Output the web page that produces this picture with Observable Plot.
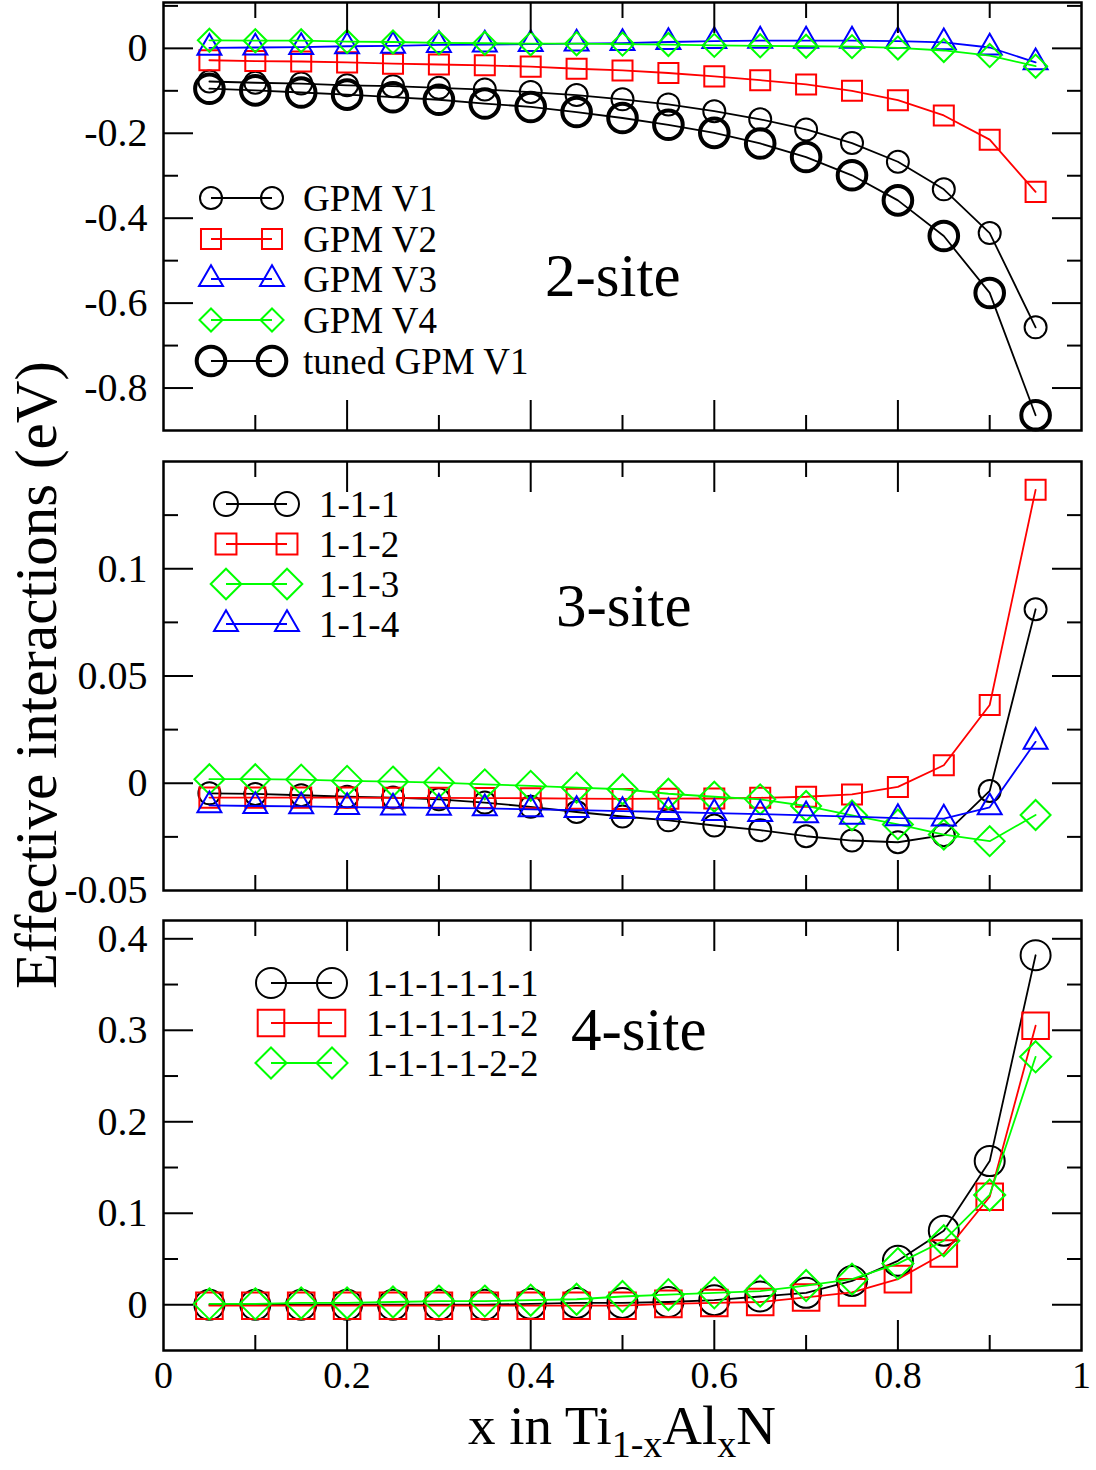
<!DOCTYPE html>
<html><head><meta charset="utf-8">
<script src="https://cdn.jsdelivr.net/npm/d3@7"></script>
<script src="https://cdn.jsdelivr.net/npm/@observablehq/plot@0.6"></script>
<style>
body{margin:0;background:#fff;}
#chart{position:relative;width:1096px;height:1470px;font-family:"Liberation Serif","Times New Roman",serif;}
#chart svg{position:absolute;left:0;}
</style></head><body><div id="chart"></div>
<script>
// ---- data ----
const xs = [0.05,0.10,0.15,0.20,0.25,0.30,0.35,0.40,0.45,0.50,0.55,0.60,0.65,0.70,0.75,0.80,0.85,0.90,0.95];

// 2-site
const gpmV1 = [-0.078,-0.081,-0.083,-0.087,-0.089,-0.093,-0.097,-0.103,-0.110,-0.120,-0.132,-0.148,-0.167,-0.191,-0.223,-0.267,-0.332,-0.435,-0.657];
const gpmV2 = [-0.028,-0.030,-0.031,-0.033,-0.036,-0.038,-0.040,-0.043,-0.048,-0.052,-0.058,-0.066,-0.075,-0.085,-0.100,-0.122,-0.158,-0.215,-0.338];
const gpmV3 = [0.001,0.002,0.003,0.005,0.006,0.008,0.009,0.010,0.011,0.0125,0.015,0.017,0.018,0.018,0.018,0.017,0.014,0.002,-0.033];
const gpmV4 = [0.019,0.018,0.018,0.016,0.015,0.013,0.012,0.011,0.011,0.010,0.009,0.007,0.006,0.005,0.004,0.001,-0.005,-0.017,-0.042];
const tunedV1 = [-0.095,-0.099,-0.104,-0.109,-0.115,-0.121,-0.130,-0.138,-0.150,-0.164,-0.180,-0.199,-0.224,-0.256,-0.299,-0.358,-0.442,-0.576,-0.864];

// 3-site
const t111 = [-0.0047,-0.0050,-0.0056,-0.0063,-0.0067,-0.0075,-0.0090,-0.0110,-0.0134,-0.0155,-0.0173,-0.0197,-0.0219,-0.0247,-0.0267,-0.0275,-0.0242,-0.0036,0.0811];
const t112 = [-0.0067,-0.0067,-0.0067,-0.0067,-0.0068,-0.0068,-0.0069,-0.0070,-0.0072,-0.0073,-0.0072,-0.0071,-0.0068,-0.0063,-0.0052,-0.0017,0.0084,0.0365,0.1368];
const t113 = [0.0019,0.0019,0.0017,0.0011,0.0008,0.0003,-0.0005,-0.0012,-0.0020,-0.0028,-0.0049,-0.0063,-0.0075,-0.0106,-0.0150,-0.0192,-0.0239,-0.0270,-0.0148];
const t114 = [-0.0103,-0.0106,-0.0108,-0.0111,-0.0113,-0.0115,-0.0117,-0.0122,-0.0125,-0.0130,-0.0134,-0.0139,-0.0144,-0.0150,-0.0156,-0.0163,-0.0165,-0.0112,0.0193];

// 4-site
const f1 = [0.000,0.000,0.000,0.000,0.000,0.000,0.000,0.001,0.002,0.002,0.003,0.005,0.009,0.013,0.026,0.048,0.081,0.157,0.382];
const f2 = [-0.001,-0.001,-0.001,-0.001,-0.001,-0.001,-0.001,-0.001,-0.001,-0.001,0.001,0.002,0.003,0.008,0.0135,0.028,0.056,0.118,0.305];
const f3 = [0.001,0.001,0.002,0.002,0.003,0.004,0.004,0.005,0.006,0.009,0.011,0.013,0.015,0.021,0.028,0.045,0.070,0.120,0.271];

// ticks
const xMajor = [0.2,0.4,0.6,0.8];
const xMinor = [0.1,0.3,0.5,0.7,0.9];
const xLabels = [0,0.2,0.4,0.6,0.8,1];

const p1Major = [0,-0.2,-0.4,-0.6,-0.8], p1Minor = [0.1,-0.1,-0.3,-0.5,-0.7], p1Labels = [0,-0.2,-0.4,-0.6,-0.8];
const p2Major = [0.1,0.05,0], p2Minor = [0.125,0.075,0.025,-0.025], p2Labels = [0.1,0.05,0,-0.05];
const p3Major = [0,0.1,0.2,0.3,0.4], p3Minor = [0.05,0.15,0.25,0.35], p3Labels = [0,0.1,0.2,0.3,0.4];

// ---- drawing ----
const W = 1096, ML = 163, MR = 15;
const GREEN = "#00ff00", RED = "#ff0000", BLUE = "#0000ff", BLACK = "#000000";
const FONT = "Liberation Serif, Times New Roman, serif";
const chart = document.getElementById("chart");

function symArea(r){ return Math.PI * r * r; }
const d3sym = {circle: d3.symbolCircle, square: d3.symbolSquare, triangle: d3.symbolTriangle, diamond2: d3.symbolDiamond2};

function panel(cfg) {
  const marks = [];
  for (const s of cfg.series) {
    const data = xs.map((x, i) => ({x, y: s.values[i]}));
    marks.push(Plot.line(data, {x: "x", y: "y", stroke: s.color, strokeWidth: 1.8}));
    marks.push(Plot.dot(data, {x: "x", y: "y", symbol: s.symbol, r: s.r, stroke: s.color, strokeWidth: s.sw, fill: "none"}));
  }
  marks.push(Plot.frame({stroke: "black", strokeWidth: 2.5}));
  for (const anchor of ["left", "right"]) {
    marks.push(Plot.axisY(cfg.yMajor, {anchor, tickSize: -30, tickFormat: () => "", strokeWidth: 2, label: null}));
    marks.push(Plot.axisY(cfg.yMinor, {anchor, tickSize: -15, tickFormat: () => "", strokeWidth: 2, label: null}));
  }
  for (const anchor of ["top", "bottom"]) {
    marks.push(Plot.axisX(xMajor, {anchor, tickSize: -30, tickFormat: () => "", strokeWidth: 2, label: null}));
    marks.push(Plot.axisX(xMinor, {anchor, tickSize: -15, tickFormat: () => "", strokeWidth: 2, label: null}));
  }
  marks.push(Plot.axisY(cfg.yLabels, {anchor: "left", tickSize: 0, tickPadding: 16, fontSize: 40, tickFormat: d => String(d), label: null}));
  if (cfg.showX) marks.push(Plot.axisX(xLabels, {anchor: "bottom", tickSize: 0, tickPadding: 11, fontSize: 38, tickFormat: d => String(d), label: null}));

  const svg = Plot.plot({
    width: W, height: cfg.height,
    marginLeft: ML, marginRight: MR, marginTop: 2, marginBottom: cfg.mb,
    x: {domain: [0, 1], label: null},
    y: {domain: cfg.yDomain, label: null},
    style: {fontFamily: FONT, background: "transparent", overflow: "visible", color: "black"},
    marks
  });
  svg.style.top = cfg.top + "px";
  svg.style.position = "absolute";

  // legend
  const g = d3.select(svg).append("g").attr("font-family", FONT).attr("text-anchor", "start");
  const L = cfg.legend;
  cfg.series.forEach((s, i) => {
    const y = L.rows[i];
    g.append("line").attr("x1", L.x1).attr("x2", L.x2).attr("y1", y).attr("y2", y)
      .attr("stroke", s.color).attr("stroke-width", 1.8);
    const r = s.lr || s.r;
    for (const x of [L.x1, L.x2]) {
      g.append("path").attr("d", d3.symbol(d3sym[s.symbol], symArea(r))())
        .attr("transform", `translate(${x},${y})`).attr("fill", "none")
        .attr("stroke", s.color).attr("stroke-width", s.sw);
    }
    g.append("text").attr("x", L.tx).attr("y", y + 13).attr("font-size", 37)
      .attr("text-anchor", "start").attr("fill", "black").text(s.name);
  });
  g.append("text").attr("x", cfg.title.x).attr("y", cfg.title.y).attr("font-size", 61)
    .attr("text-anchor", "start").attr("fill", "black").text(cfg.title.text);
  chart.appendChild(svg);
}

panel({
  top: 0, height: 432, mb: 2, yDomain: [-0.9, 0.108],
  yMajor: p1Major, yMinor: p1Minor, yLabels: p1Labels, showX: false,
  series: [
    {name: "GPM V1", values: gpmV1, color: BLACK, symbol: "circle", r: 11, sw: 2},
    {name: "GPM V2", values: gpmV2, color: RED, symbol: "square", r: 11.3, sw: 2},
    {name: "GPM V3", values: gpmV3, color: BLUE, symbol: "triangle", r: 8.9, sw: 2},
    {name: "GPM V4", values: gpmV4, color: GREEN, symbol: "diamond2", r: 10.4, sw: 2},
    {name: "tuned GPM V1", values: tunedV1, color: BLACK, symbol: "circle", r: 14.3, sw: 4}
  ],
  legend: {x1: 211, x2: 272, tx: 303, rows: [198, 239, 279, 320, 361]},
  title: {text: "2-site", x: 545, y: 296}
});

panel({
  top: 459, height: 433, mb: 2, yDomain: [-0.05, 0.15],
  yMajor: p2Major, yMinor: p2Minor, yLabels: p2Labels, showX: false,
  series: [
    {name: "1-1-1", values: t111, color: BLACK, symbol: "circle", r: 11, lr: 12, sw: 2},
    {name: "1-1-2", values: t112, color: RED, symbol: "square", r: 11.3, lr: 11.8, sw: 2},
    {name: "1-1-3", values: t113, color: GREEN, symbol: "diamond2", r: 13.5, lr: 13.8, sw: 2},
    {name: "1-1-4", values: t114, color: BLUE, symbol: "triangle", r: 8.9, sw: 2}
  ],
  legend: {x1: 226, x2: 287, tx: 319, rows: [45, 85, 125, 165]},
  title: {text: "3-site", x: 556, y: 167}
});

panel({
  top: 918, height: 552, mb: 120, yDomain: [-0.05, 0.42],
  yMajor: p3Major, yMinor: p3Minor, yLabels: p3Labels, showX: true,
  series: [
    {name: "1-1-1-1-1-1", values: f1, color: BLACK, symbol: "circle", r: 15, sw: 2},
    {name: "1-1-1-1-1-2", values: f2, color: RED, symbol: "square", r: 15, sw: 2},
    {name: "1-1-1-1-2-2", values: f3, color: GREEN, symbol: "diamond2", r: 14, sw: 2}
  ],
  legend: {x1: 271, x2: 332, tx: 366, rows: [65, 105, 145]},
  title: {text: "4-site", x: 571, y: 132}
});

// axis titles overlay
const ov = d3.select(chart).append("svg").attr("width", W).attr("height", 1470)
  .style("position", "absolute").style("top", "0px").style("left", "0px")
  .attr("font-family", FONT);
ov.append("text").attr("transform", "translate(56,675) rotate(-90)").attr("text-anchor", "middle")
  .attr("font-size", 59).attr("fill", "black").text("Effective interactions (eV)");
const xt = ov.append("text").attr("x", 622).attr("y", 1444).attr("text-anchor", "middle").attr("font-size", 55).attr("fill", "black");
xt.append("tspan").text("x in Ti");
xt.append("tspan").attr("font-size", 38).attr("dy", 13).text("1-x");
xt.append("tspan").attr("dy", -13).text("Al");
xt.append("tspan").attr("font-size", 38).attr("dy", 13).text("x");
xt.append("tspan").attr("dy", -13).text("N");
</script></body></html>
